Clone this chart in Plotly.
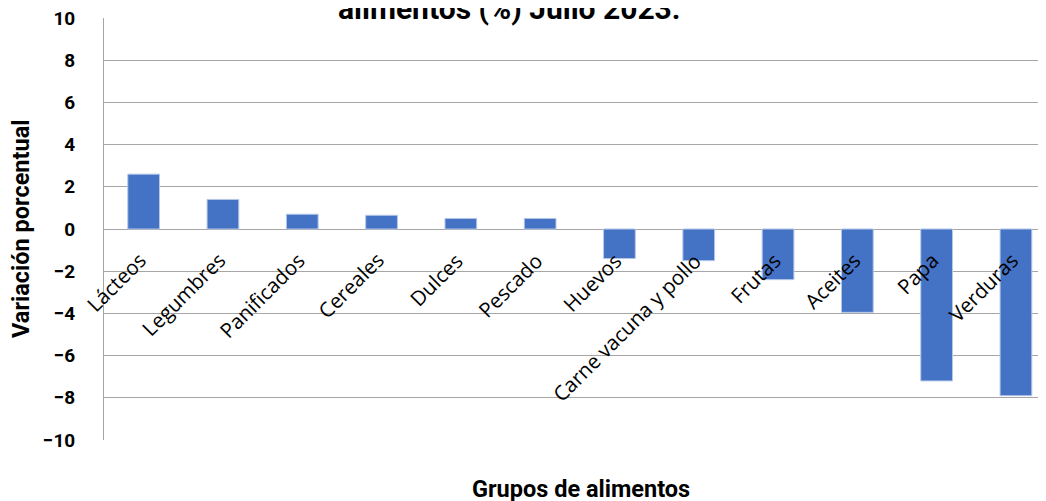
import plotly.graph_objects as go

categories = ["Lácteos", "Legumbres", "Panificados", "Cereales", "Dulces", "Pescado",
              "Huevos", "Carne vacuna y pollo", "Frutas", "Aceites", "Papa", "Verduras"]
values = [2.6, 1.4, 0.7, 0.65, 0.5, 0.5, -1.4, -1.5, -2.4, -3.95, -7.2, -7.9]
y_ticks = [-10, -8, -6, -4, -2, 0, 2, 4, 6, 8, 10]

title_text = "alimentos (%) Julio 2023."
x_title = "Grupos de alimentos"
y_title = "Variación porcentual"

idx = list(range(len(categories)))

fig = go.Figure()
fig.add_trace(go.Bar(
    x=idx, y=values, width=0.4,
    marker=dict(color="#4472C4", line=dict(color="#B4C7E7", width=1)),
))

annotations = []
for i, c in zip(idx, categories):
    annotations.append(dict(
        x=i, y=-0.7, xref="x", yref="y", text=c, showarrow=False,
        textangle=-45, xanchor="right", yanchor="top", xshift=11,
        font=dict(family="Open Sans", size=20.5, color="#000000"),
    ))
annotations.append(dict(
    x=0.427, y=1, xref="paper", yref="paper", text="<b>" + title_text + "</b>",
    showarrow=False, xanchor="center", yanchor="bottom", yshift=-10,
    font=dict(family="Roboto", size=30, color="#000000"),
))
annotations.append(dict(
    x=0.502, y=0, xref="paper", yref="paper", text="<b>" + x_title + "</b>",
    showarrow=False, xanchor="center", yanchor="middle", yshift=-49,
    font=dict(family="Roboto", size=23.5, color="#000000"),
))
annotations.append(dict(
    x=0, y=0.5, xref="paper", yref="paper", text="<b>" + y_title + "</b>",
    showarrow=False, xanchor="center", yanchor="middle", xshift=-83,
    textangle=-90,
    font=dict(family="Roboto", size=23.5, color="#000000"),
))

fig.update_layout(
    width=1046, height=501,
    margin=dict(l=96, r=0, t=10, b=69, autoexpand=False),
    paper_bgcolor="white", plot_bgcolor="white",
    showlegend=False,
    annotations=annotations,
    xaxis=dict(range=[-0.5, 11.48], showticklabels=False, showgrid=False,
               zeroline=False, showline=False, fixedrange=True),
    yaxis=dict(range=[-10, 10], tickvals=y_ticks, showgrid=True,
               gridcolor="#A6A6A6", gridwidth=1, zeroline=True,
               zerolinecolor="#A6A6A6", zerolinewidth=1,
               showline=True, linecolor="#A6A6A6", linewidth=1,
               ticks="outside", ticklen=24, tickcolor="rgba(0,0,0,0)",
               ticklabeloverflow="allow",
               tickfont=dict(family="Roboto", size=19, color="#000000", weight="bold")),
)

fig.write_html("out.html")
